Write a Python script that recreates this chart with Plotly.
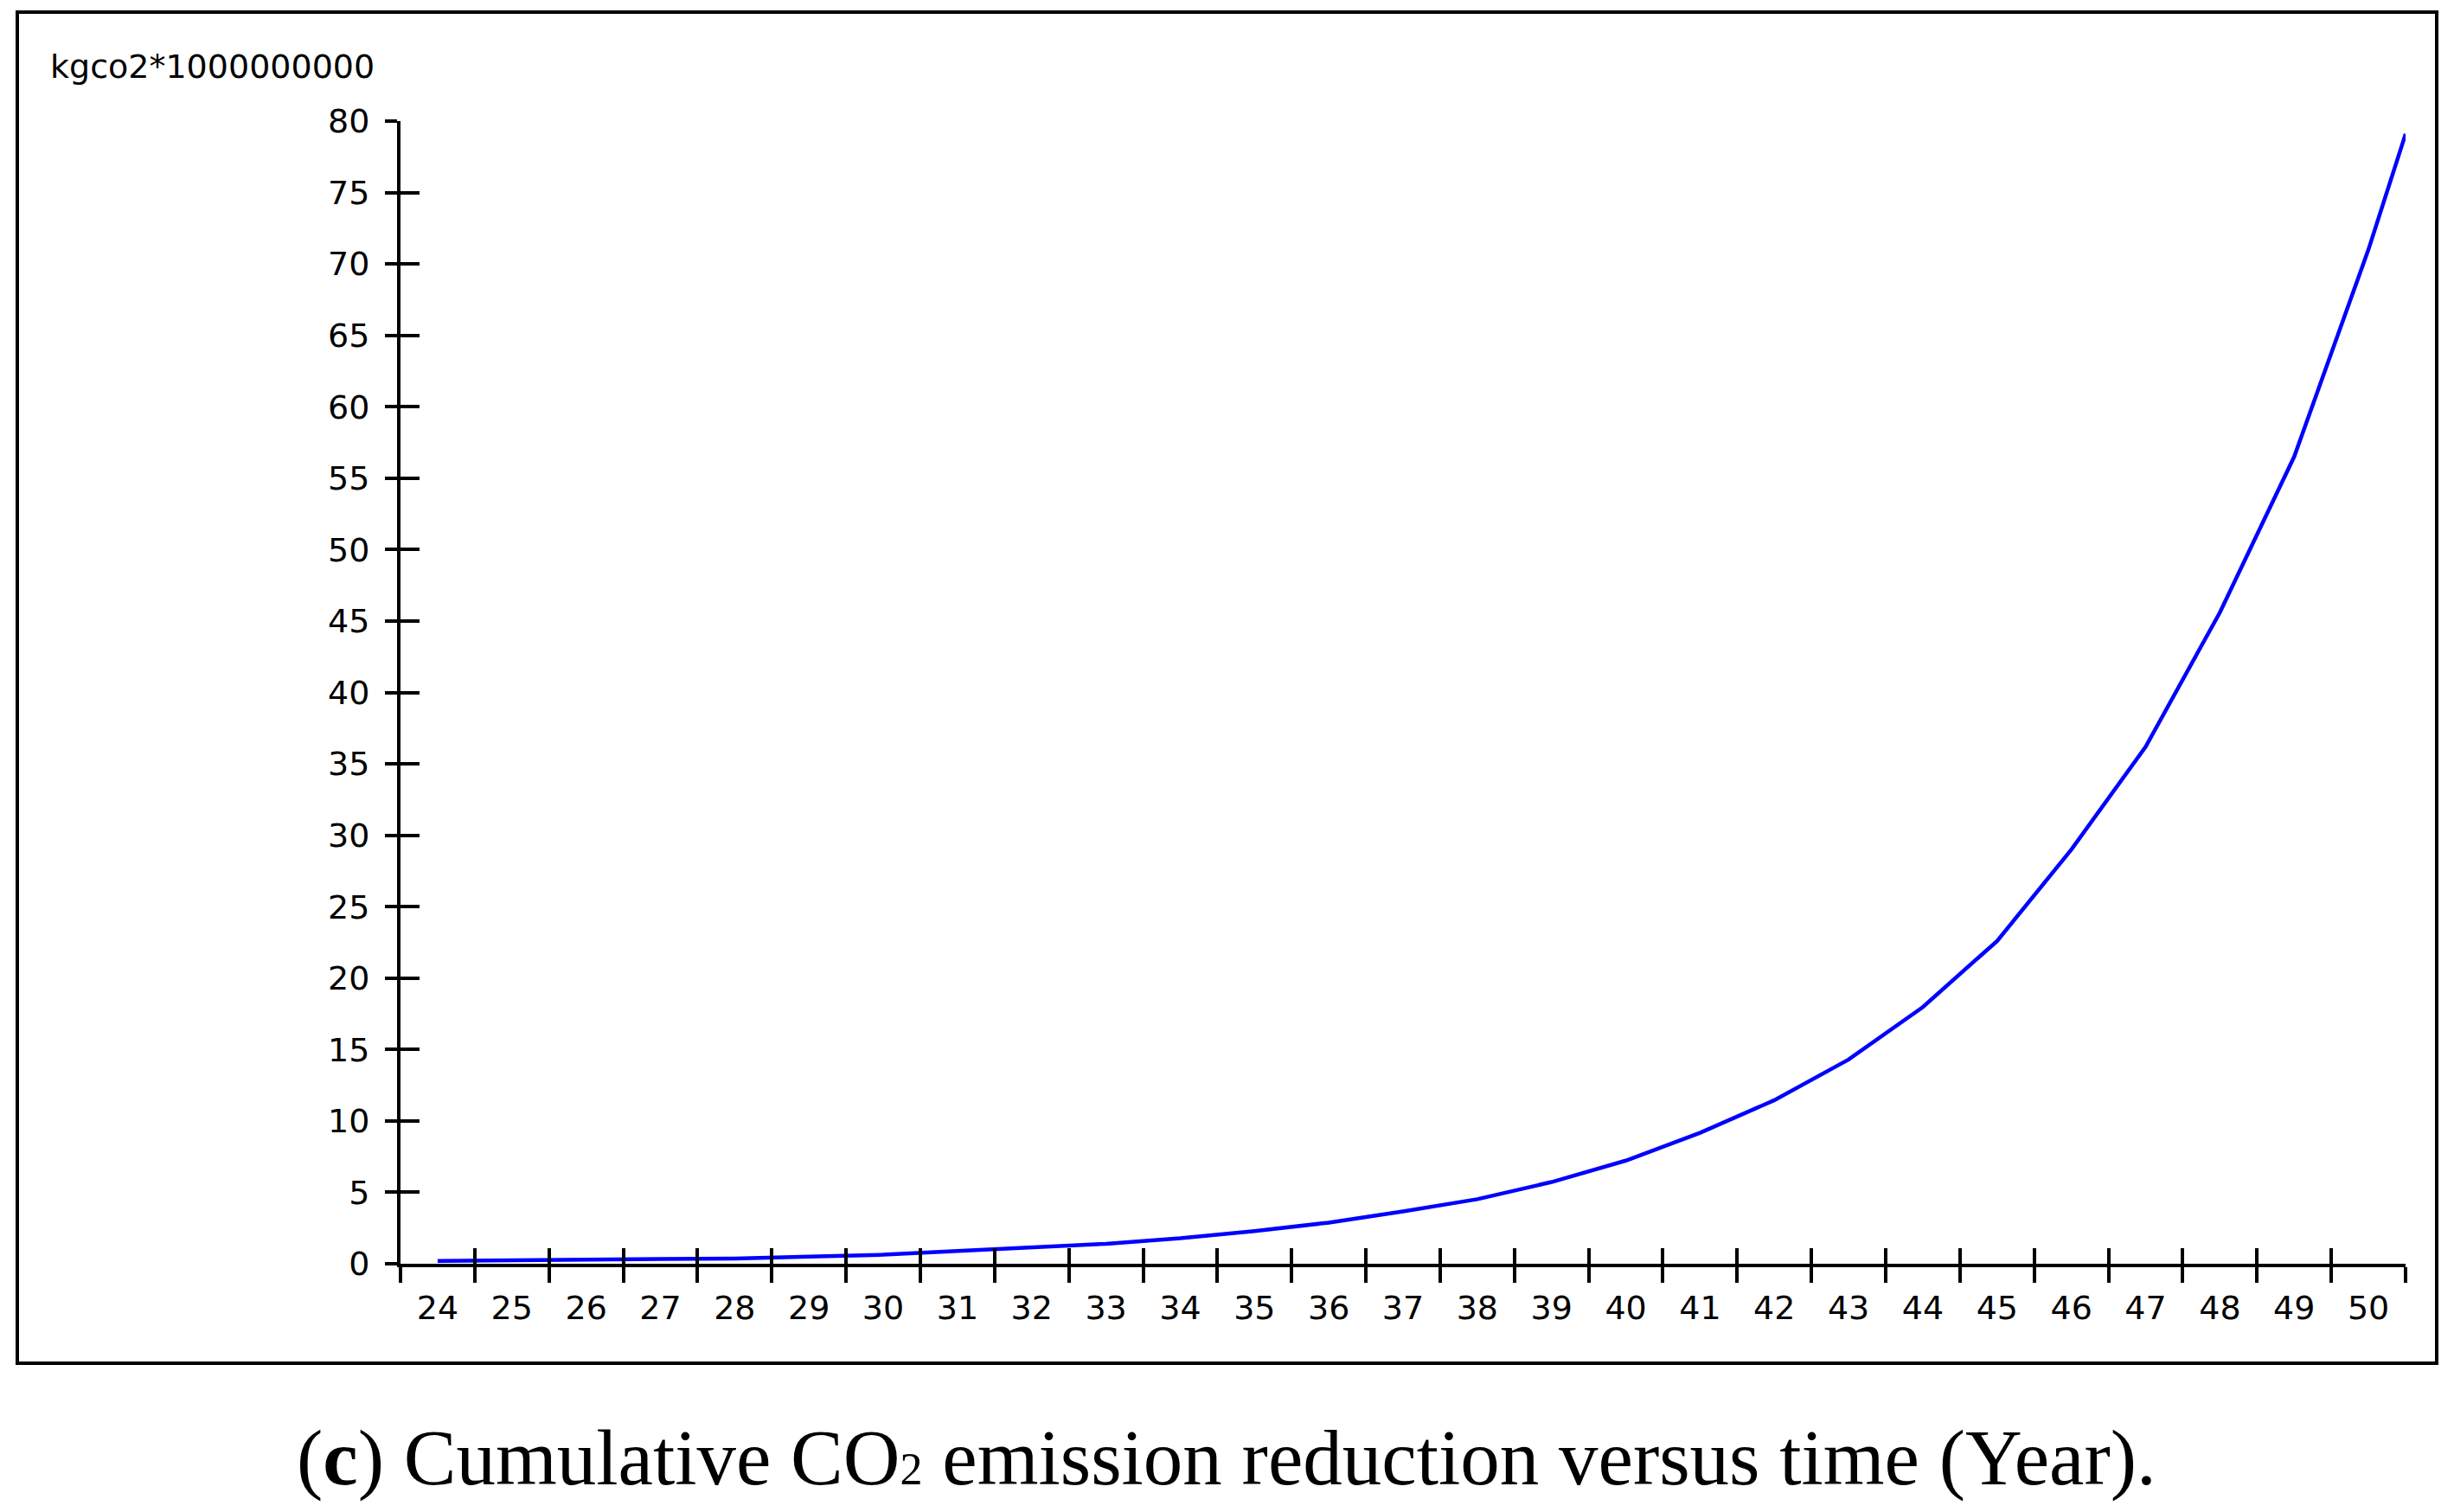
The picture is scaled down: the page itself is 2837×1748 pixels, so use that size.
import plotly.graph_objects as go

# ---- data ----
year_labels = [str(y) for y in range(24, 51)]
year_centers = list(range(24, 51))
year_bounds = [23.5 + i for i in range(28)]

curve_x = [24, 25, 26, 27, 28, 29, 30, 31, 32, 33, 34, 35, 36, 37, 38, 39,
           40, 41, 42, 43, 44, 45, 46, 47, 48, 49, 50, 50.5]
curve_y = [0.20, 0.24, 0.27, 0.31, 0.37, 0.50, 0.63, 0.89, 1.14, 1.40, 1.78,
           2.28, 2.88, 3.66, 4.52, 5.72, 7.22, 9.17, 11.45, 14.3, 17.97, 22.6,
           29.0, 36.2, 45.6, 56.5, 71.0, 79.1]

y_ticks = list(range(0, 85, 5))
y_unit_label = "kgco2*1000000000"
caption = ("(<b>c</b>) Cumulative CO<span style=\"font-size:52px\">2</span>"
           " emission reduction versus time (Year).")

# ---- layout geometry (pixels) ----
W, H = 2837, 1748
L, R, T, B = 463, 2781, 140, 1461


def px_x(p):
    return (p - L) / (R - L)


def px_y(p):
    return (B - p) / (B - T)


TICKFONT = dict(family="DejaVu Sans", size=38, color="black")
XR = [23.5, 50.5]
YR = [0, 80]

fig = go.Figure()
fig.add_trace(go.Scatter(x=curve_x, y=curve_y, mode="lines",
                         line=dict(color="#0000FF", width=4.5),
                         showlegend=False, cliponaxis=False, hoverinfo="skip"))
# helper (invisible) traces so overlay axes get drawn
fig.add_trace(go.Scatter(x=[None], y=[None], xaxis="x2", yaxis="y2",
                         showlegend=False, hoverinfo="skip"))
fig.add_trace(go.Scatter(x=[None], y=[None], xaxis="x3", yaxis="y",
                         showlegend=False, hoverinfo="skip"))

fig.update_layout(
    width=W, height=H,
    margin=dict(l=L, r=W - R, t=T, b=H - B, pad=0),
    paper_bgcolor="white", plot_bgcolor="white",
    xaxis=dict(range=XR, tickmode="array", tickvals=year_bounds,
               ticks="outside", ticklen=18, tickwidth=4, tickcolor="black",
               showticklabels=False, showline=True, linecolor="black",
               linewidth=4, showgrid=False, zeroline=False),
    xaxis2=dict(range=XR, overlaying="x", anchor="y", side="bottom",
                tickmode="array", tickvals=year_centers, ticktext=year_labels,
                ticks="", tickfont=TICKFONT, ticklabelstandoff=25,
                showline=False, showgrid=False, zeroline=False),
    xaxis3=dict(range=XR, overlaying="x", anchor="y", side="bottom",
                tickmode="array", tickvals=year_bounds, ticks="inside",
                ticklen=18, tickwidth=4, tickcolor="black",
                showticklabels=False, showline=False, showgrid=False,
                zeroline=False),
    yaxis=dict(range=YR, tickmode="array", tickvals=y_ticks,
               ticks="outside", ticklen=14, tickwidth=4, tickcolor="black",
               tickfont=TICKFONT, ticklabelstandoff=10,
               showline=True, linecolor="black", linewidth=4,
               showgrid=False, zeroline=False),
    yaxis2=dict(range=YR, overlaying="y", anchor="x", side="left",
                tickmode="array", tickvals=y_ticks, ticks="inside",
                ticklen=22, tickwidth=4, tickcolor="black",
                showticklabels=False, showline=False, showgrid=False,
                zeroline=False),
    showlegend=False,
)

fig.add_annotation(text=y_unit_label, xref="paper", yref="paper",
                   x=px_x(56), y=px_y(77), xanchor="left", yanchor="middle",
                   showarrow=False, font=TICKFONT)
fig.add_annotation(text=caption, xref="paper", yref="paper",
                   x=px_x(1418), y=px_y(1685), xanchor="center",
                   yanchor="middle", showarrow=False,
                   font=dict(family="Liberation Serif", size=91, color="black"))
fig.add_shape(type="rect", xref="paper", yref="paper",
              x0=px_x(20), x1=px_x(2817), y0=px_y(1576), y1=px_y(14),
              line=dict(color="black", width=4), fillcolor="rgba(0,0,0,0)",
              layer="above")

fig.write_html("out.html", config={"displayModeBar": False},
               post_script="document.body.style.margin='0px';")
